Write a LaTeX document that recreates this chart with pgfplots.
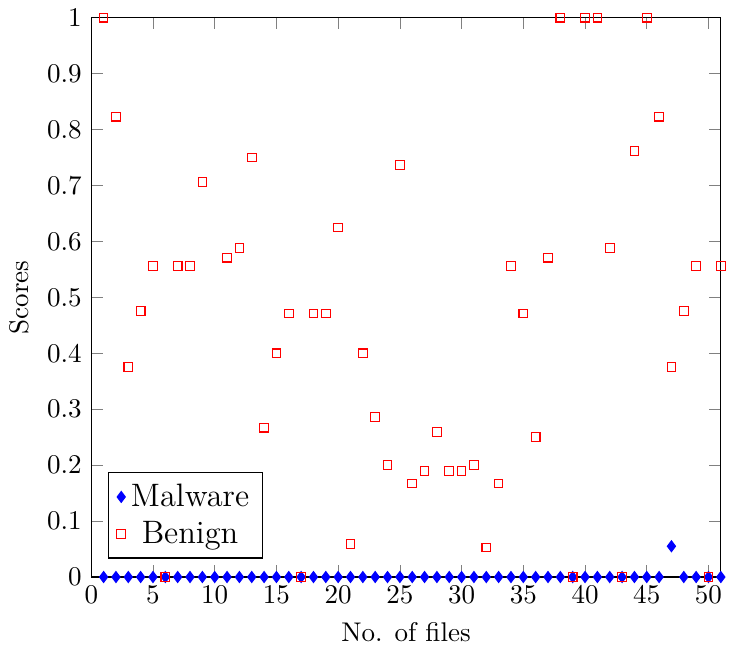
\documentclass[border=0pt]{standalone}
\usepackage{pgfplots}
\pgfplotsset{compat=1.18}
\begin{document}
\begin{tikzpicture}
\begin{axis}[
  scale only axis,
  width=233pt, height=207pt,
  xmin=0, xmax=51, ymin=0, ymax=1,
  xtick={0,5,...,50},
  ytick={0,0.1,...,1},
  yticklabel style={/pgf/number format/fixed},
  xlabel={No. of files},
  ylabel={Scores},
  legend style={at={(0.027,0.033)},anchor=south west, legend cell align=center, font=\large},
  clip=false,
]
\addplot[only marks, mark=diamond*, color=blue, mark size=2pt] coordinates {
(1,0)(2,0)(3,0)(4,0)(5,0)(6,0)(7,0)(8,0)(9,0)(10,0)
(11,0)(12,0)(13,0)(14,0)(15,0)(16,0)(17,0)(18,0)(19,0)(20,0)
(21,0)(22,0)(23,0)(24,0)(25,0)(26,0)(27,0)(28,0)(29,0)(30,0)
(31,0)(32,0)(33,0)(34,0)(35,0)(36,0)(37,0)(38,0)(39,0)(40,0)
(41,0)(42,0)(43,0)(44,0)(45,0)(46,0)(47,0.055)(48,0)(49,0)(50,0)(51,0)
};
\addlegendentry{Malware}
\addplot[only marks, mark=square, color=red, mark size=1.6pt] coordinates {
(1,1)(2,0.823)(3,0.375)(4,0.476)(5,0.556)(6,0)(7,0.556)(8,0.556)(9,0.706)
(11,0.571)(12,0.588)(13,0.75)(14,0.267)(15,0.4)(16,0.471)(17,0)(18,0.471)(19,0.471)(20,0.625)
(21,0.059)(22,0.4)(23,0.286)(24,0.2)(25,0.737)(26,0.167)(27,0.19)(28,0.259)(29,0.19)(30,0.19)
(31,0.2)(32,0.053)(33,0.167)(34,0.556)(35,0.471)(36,0.25)(37,0.571)(38,1)(39,0)(40,1)
(41,1)(42,0.588)(43,0)(44,0.762)(45,1)(46,0.823)(47,0.375)(48,0.476)(49,0.556)(50,0)(51,0.556)
};
\addlegendentry{Benign}
\end{axis}
\end{tikzpicture}
\end{document}
